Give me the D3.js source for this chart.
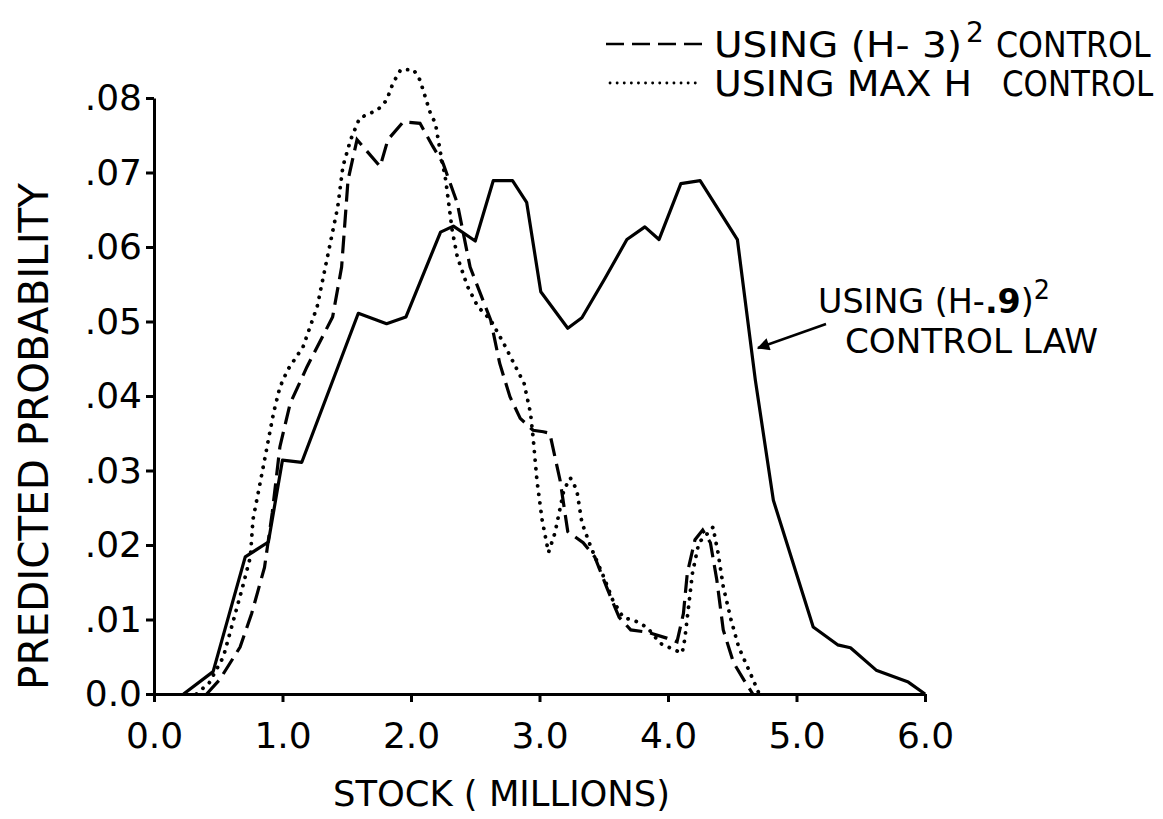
<!DOCTYPE html>
<html><head><meta charset="utf-8">
<script src="https://cdn.jsdelivr.net/npm/d3@7"></script>
<style>body{margin:0;background:#fff}text{font-family:"DejaVu Sans",sans-serif;fill:#000}</style>
</head><body>
<svg id="c" width="1163" height="819"></svg>
<script>
const xTicks = [0,1,2,3,4,5,6];
const xTickLabels = ["0.0","1.0","2.0","3.0","4.0","5.0","6.0"];
const yTicks = [0,0.01,0.02,0.03,0.04,0.05,0.06,0.07,0.08];
const yTickLabels = ["0.0",".01",".02",".03",".04",".05",".06",".07",".08"];

// (H-.9)^2 control law (solid)
const solidSeries = [[0.23,0],[0.46,0.003],[0.71,0.0184],[0.89,0.0204],[1.0,0.0314],[1.15,0.0311],[1.59,0.0511],[1.81,0.0497],[1.96,0.0506],[2.23,0.062],[2.33,0.0628],[2.50,0.0608],[2.64,0.0689],[2.79,0.0689],[2.90,0.066],[3.01,0.054],[3.22,0.0491],[3.33,0.0505],[3.51,0.0558],[3.68,0.061],[3.82,0.0627],[3.93,0.061],[4.10,0.0685],[4.25,0.0689],[4.54,0.061],[4.68,0.0421],[4.82,0.026],[5.13,0.009],[5.32,0.0066],[5.42,0.0062],[5.62,0.0032],[5.79,0.0021],[5.87,0.0016],[6.0,0]];
// (H-3)^2 control (dashed)
const dashedSeries = [[0.41,0],[0.51,0.0019],[0.67,0.0063],[0.76,0.0108],[0.86,0.017],[0.92,0.0243],[0.98,0.0332],[1.06,0.039],[1.19,0.0439],[1.39,0.0506],[1.46,0.0573],[1.51,0.069],[1.58,0.0744],[1.76,0.0708],[1.82,0.0744],[1.94,0.0768],[2.07,0.0766],[2.17,0.0735],[2.25,0.0712],[2.36,0.0659],[2.46,0.0573],[2.62,0.0502],[2.69,0.0444],[2.77,0.0399],[2.85,0.037],[2.95,0.0354],[3.03,0.0352],[3.08,0.035],[3.16,0.0287],[3.22,0.0218],[3.34,0.0203],[3.43,0.0184],[3.53,0.014],[3.62,0.0103],[3.71,0.0086],[3.84,0.0083],[3.99,0.0075],[4.07,0.007],[4.12,0.0108],[4.15,0.0162],[4.21,0.0207],[4.27,0.022],[4.33,0.0203],[4.38,0.0153],[4.43,0.0086],[4.51,0.0042],[4.59,0.0019],[4.66,0]];
// max H control (dotted)
const dottedSeries = [[0.33,0],[0.43,0.0015],[0.54,0.005],[0.62,0.01],[0.69,0.0144],[0.75,0.0184],[0.77,0.0234],[0.83,0.0287],[0.88,0.0332],[0.93,0.0377],[0.98,0.0412],[1.04,0.0435],[1.16,0.0466],[1.27,0.052],[1.35,0.0587],[1.43,0.0654],[1.47,0.0708],[1.53,0.0744],[1.60,0.0773],[1.74,0.0784],[1.81,0.0797],[1.86,0.082],[1.92,0.0838],[2.02,0.0838],[2.07,0.0824],[2.15,0.078],[2.19,0.0766],[2.23,0.0726],[2.27,0.069],[2.32,0.0623],[2.36,0.0587],[2.44,0.0547],[2.52,0.052],[2.62,0.0502],[2.72,0.0471],[2.80,0.0444],[2.88,0.0417],[2.93,0.0377],[2.95,0.0345],[2.98,0.0287],[3.02,0.0234],[3.07,0.019],[3.12,0.0216],[3.19,0.0274],[3.24,0.029],[3.29,0.0274],[3.33,0.023],[3.40,0.0197],[3.50,0.0157],[3.57,0.0126],[3.65,0.0103],[3.76,0.0097],[3.84,0.0089],[3.94,0.0068],[4.04,0.006],[4.11,0.0055],[4.13,0.0073],[4.16,0.0117],[4.19,0.0162],[4.24,0.0203],[4.31,0.0216],[4.35,0.0224],[4.39,0.0189],[4.43,0.0144],[4.49,0.01],[4.55,0.0063],[4.64,0.0028],[4.71,0]];

const svg = d3.select("#c");
const x = d3.scaleLinear().domain([0,6]).range([154,925]);
const y = d3.scaleLinear().domain([0,0.08]).range([694,98]);

// axes
const ax = svg.append("g").attr("transform","translate(0,694)")
  .call(d3.axisBottom(x).tickValues(xTicks).tickSize(8).tickSizeOuter(0).tickFormat((d,i)=>xTickLabels[i]));
ax.select(".domain").attr("stroke-width",3);
ax.selectAll(".tick line").attr("stroke-width",3);
ax.selectAll(".tick text").attr("font-size",36).attr("dy","1.2em").attr("fill","#000")
  .style("font-family",'"DejaVu Sans",sans-serif');

const ay = svg.append("g").attr("transform","translate(154,0)")
  .call(d3.axisLeft(y).tickValues(yTicks).tickSize(8).tickSizeOuter(0).tickFormat((d,i)=>yTickLabels[i]));
ay.select(".domain").attr("stroke-width",3);
ay.selectAll(".tick line").attr("stroke-width",3);
ay.selectAll(".tick text").attr("font-size",36).attr("x",-12).attr("fill","#000")
  .style("font-family",'"DejaVu Sans",sans-serif');

const line = d3.line().x(d=>x(d[0])).y(d=>y(d[1]));
svg.append("path").datum(solidSeries).attr("d",line).attr("fill","none").attr("stroke","#000").attr("stroke-width",3.2).attr("stroke-linejoin","round");
svg.append("path").datum(dashedSeries).attr("d",line).attr("fill","none").attr("stroke","#000").attr("stroke-width",3.2).attr("stroke-dasharray","18 8");
svg.append("path").datum(dottedSeries).attr("d",line).attr("fill","none").attr("stroke","#000").attr("stroke-width",3.8).attr("stroke-linecap","round").attr("stroke-dasharray","0.1 8.5");

// axis titles
svg.append("text").attr("x",333).attr("y",806).attr("font-size",35).attr("textLength",337).attr("lengthAdjust","spacingAndGlyphs").text("STOCK ( MILLIONS)");
svg.append("text").attr("transform","translate(48,690) rotate(-90)").attr("font-size",40).attr("textLength",507).attr("lengthAdjust","spacingAndGlyphs").text("PREDICTED PROBABILITY");

// legend
svg.append("line").attr("x1",606).attr("x2",702).attr("y1",44).attr("y2",44).attr("stroke","#000").attr("stroke-width",2.5).attr("stroke-dasharray","18 8");
svg.append("line").attr("x1",610).attr("x2",702).attr("y1",83).attr("y2",83).attr("stroke","#000").attr("stroke-width",2.8).attr("stroke-linecap","round").attr("stroke-dasharray","0.1 7");
svg.append("text").attr("x",714).attr("y",57).attr("font-size",36).attr("textLength",248).attr("lengthAdjust","spacingAndGlyphs").text("USING (H- 3)");
svg.append("text").attr("x",966).attr("y",42).attr("font-size",28).text("2");
svg.append("text").attr("transform","translate(996,57) scale(0.88,1)").attr("font-size",36).text("CONTROL");
svg.append("text").attr("x",714).attr("y",96).attr("font-size",36).attr("textLength",258).attr("lengthAdjust","spacingAndGlyphs").text("USING  MAX  H");
svg.append("text").attr("transform","translate(1002,96) scale(0.86,1)").attr("font-size",36).text("CONTROL");

// annotation
const t1 = svg.append("text").attr("x",818).attr("y",313).attr("font-size",34).attr("textLength",232).attr("lengthAdjust","spacingAndGlyphs");
t1.append("tspan").text("USING (H-");
t1.append("tspan").attr("font-weight","bold").text(".9");
t1.append("tspan").text(")");
t1.append("tspan").attr("font-size",26).attr("dy",-14).text("2");
svg.append("text").attr("x",845).attr("y",353).attr("font-size",34).attr("textLength",253).attr("lengthAdjust","spacingAndGlyphs").text("CONTROL LAW");
svg.append("defs").append("marker").attr("id","ah").attr("viewBox","0 0 10 10").attr("refX",9).attr("refY",5)
  .attr("markerWidth",7).attr("markerHeight",5).attr("markerUnits","strokeWidth").attr("orient","auto")
  .append("path").attr("d","M0,0L10,5L0,10z").attr("fill","#000");
svg.append("line").attr("x1",826).attr("y1",324).attr("x2",758).attr("y2",348).attr("stroke","#000").attr("stroke-width",2.5).attr("marker-end","url(#ah)");
</script>
</body></html>
